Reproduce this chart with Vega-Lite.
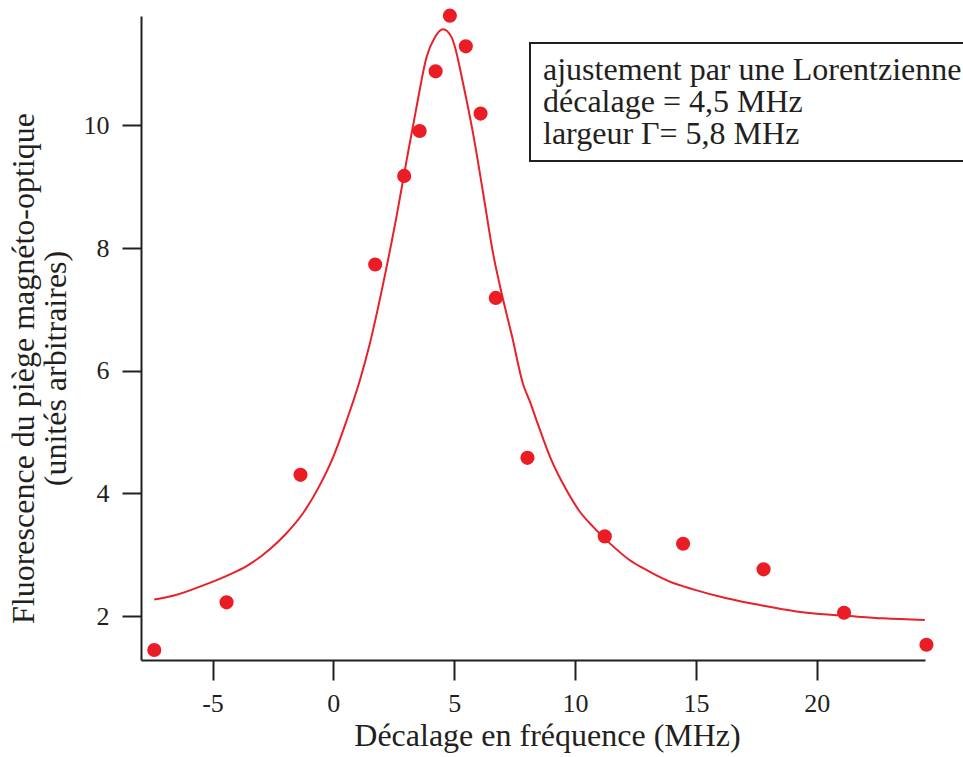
{
  "$schema": "https://vega.github.io/schema/vega-lite/v6.json",
  "width": 784,
  "height": 644,
  "autosize": {"type": "none"},
  "padding": {"left": 141, "top": 16, "right": 38, "bottom": 97},
  "background": "white",
  "config": {
    "view": {"stroke": null},
    "font": "Liberation Serif",
    "legend": {"strokeWidth": 2},
    "axis": {
      "grid": false,
      "domainColor": "#231f20",
      "domainWidth": 2,
      "tickColor": "#231f20",
      "tickWidth": 2,
      "labelFont": "Liberation Serif",
      "labelFontSize": 26,
      "labelColor": "#231f20",
      "titleFont": "Liberation Serif",
      "titleFontSize": 32,
      "titleFontWeight": "normal",
      "titleColor": "#231f20"
    }
  },
  "layer": [
    {
      "data": {
        "values": [
          {"x": -7.41, "y": 2.27}, {"x": -6.63, "y": 2.33}, {"x": -5.25, "y": 2.52},
          {"x": -4.28, "y": 2.68}, {"x": -3.59, "y": 2.815}, {"x": -2.63, "y": 3.09},
          {"x": -1.94, "y": 3.35}, {"x": -1.25, "y": 3.68}, {"x": -0.56, "y": 4.135},
          {"x": 0.0, "y": 4.6}, {"x": 0.55, "y": 5.19}, {"x": 1.1, "y": 5.85},
          {"x": 1.51, "y": 6.445}, {"x": 2.06, "y": 7.42}, {"x": 2.61, "y": 8.51},
          {"x": 3.03, "y": 9.43}, {"x": 3.44, "y": 10.3}, {"x": 3.86, "y": 11.12},
          {"x": 4.2, "y": 11.44}, {"x": 4.54, "y": 11.57}, {"x": 4.89, "y": 11.44},
          {"x": 5.03, "y": 11.28}, {"x": 5.37, "y": 10.68}, {"x": 5.78, "y": 9.87},
          {"x": 6.2, "y": 8.89}, {"x": 6.61, "y": 7.91}, {"x": 7.03, "y": 7.15},
          {"x": 7.4, "y": 6.55}, {"x": 7.85, "y": 5.78}, {"x": 8.13, "y": 5.5},
          {"x": 8.47, "y": 5.12}, {"x": 8.96, "y": 4.6}, {"x": 9.65, "y": 4.05},
          {"x": 10.2, "y": 3.7}, {"x": 10.75, "y": 3.455}, {"x": 11.44, "y": 3.185},
          {"x": 12.27, "y": 2.91}, {"x": 12.82, "y": 2.78}, {"x": 13.92, "y": 2.56},
          {"x": 14.89, "y": 2.435}, {"x": 16.27, "y": 2.29}, {"x": 17.65, "y": 2.18},
          {"x": 19.58, "y": 2.054}, {"x": 21.37, "y": 2.0}, {"x": 22.75, "y": 1.962},
          {"x": 24.47, "y": 1.935}
        ]
      },
      "mark": {"type": "line", "color": "#e8202a", "strokeWidth": 2, "interpolate": "monotone"},
      "encoding": {
        "x": {
          "field": "x", "type": "quantitative",
          "scale": {"domain": [-7.96, 24.48], "nice": false, "zero": false},
          "axis": {
            "values": [-5, 0, 5, 10, 15, 20],
            "labelExpr": "'' + datum.value",
            "tickSize": 20,
            "labelPadding": 10,
            "title": "Décalage en fréquence (MHz)",
            "titleX": 406,
            "titleY": 85,
            "titleAlign": "center",
            "titleBaseline": "alphabetic"
          }
        },
        "y": {
          "field": "y", "type": "quantitative",
          "scale": {"domain": [1.283, 11.785], "nice": false, "zero": false},
          "axis": {
            "values": [2, 4, 6, 8, 10],
            "labelExpr": "'' + datum.value",
            "tickSize": 19,
            "labelPadding": 13,
            "title": ["Fluorescence du piège magnéto-optique", "(unités arbitraires)"],
            "titleAngle": -90,
            "titleX": -108,
            "titleY": 352,
            "titleAlign": "center",
            "titleBaseline": "alphabetic",
            "titleLineHeight": 32
          }
        }
      }
    },
    {
      "data": {
        "values": [
          {"x": -7.41, "y": 1.446}, {"x": -4.42, "y": 2.223}, {"x": -1.36, "y": 4.303},
          {"x": 1.73, "y": 7.733}, {"x": 2.93, "y": 9.177}, {"x": 3.57, "y": 9.91},
          {"x": 4.23, "y": 10.883}, {"x": 4.82, "y": 11.79}, {"x": 5.48, "y": 11.29},
          {"x": 6.09, "y": 10.194}, {"x": 6.72, "y": 7.188}, {"x": 8.03, "y": 4.58},
          {"x": 11.23, "y": 3.299}, {"x": 14.47, "y": 3.178}, {"x": 17.8, "y": 2.761},
          {"x": 21.13, "y": 2.054}, {"x": 24.54, "y": 1.532}
        ]
      },
      "mark": {"type": "circle", "color": "#ec1c24", "size": 200, "opacity": 1},
      "encoding": {
        "x": {"field": "x", "type": "quantitative"},
        "y": {"field": "y", "type": "quantitative"}
      }
    },
    {
      "data": {
        "values": [
          {"info": "ajustement par une Lorentzienne"},
          {"info": "décalage = 4,5 MHz"},
          {"info": "largeur Γ= 5,8 MHz"}
        ]
      },
      "mark": {"type": "point", "opacity": 0},
      "encoding": {
        "color": {
          "field": "info", "type": "nominal",
          "scale": {
            "domain": ["ajustement par une Lorentzienne", "décalage = 4,5 MHz", "largeur Γ= 5,8 MHz"],
            "range": ["#231f20", "#231f20", "#231f20"]
          },
          "legend": {
            "title": null,
            "orient": "none",
            "legendX": 389,
            "legendY": 27,
            "padding": 11,
            "strokeColor": "#231f20",
            "symbolType": "circle",
            "symbolSize": 1,
            "symbolOpacity": 0,
            "symbolStrokeWidth": 0,
            "labelOffset": -30,
            "labelFont": "Liberation Serif",
            "labelFontSize": 32,
            "labelColor": "#231f20",
            "labelLimit": 1000,
            "rowPadding": -8,
            "encode": {"legend": {"update": {"strokeWidth": {"value": 2}}}}
          }
        }
      }
    }
  ]
}
